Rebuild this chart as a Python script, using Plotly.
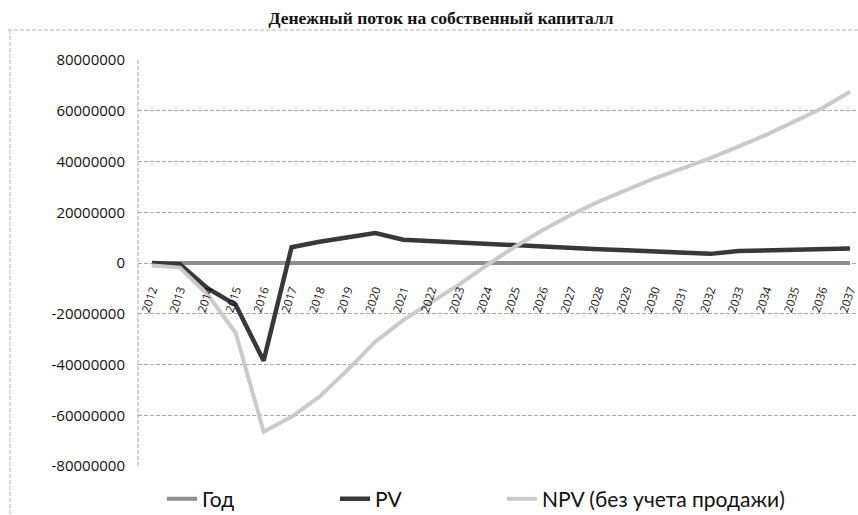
import plotly.graph_objects as go

years = [2012, 2013, 2014, 2015, 2016, 2017, 2018, 2019, 2020, 2021, 2022, 2023, 2024,
         2025, 2026, 2027, 2028, 2029, 2030, 2031, 2032, 2033, 2034, 2035, 2036, 2037]
year_labels = [str(y) for y in years]

god = [2012, 2013, 2014, 2015, 2016, 2017, 2018, 2019, 2020, 2021, 2022, 2023, 2024,
       2025, 2026, 2027, 2028, 2029, 2030, 2031, 2032, 2033, 2034, 2035, 2036, 2037]

pv = [0, -500000, -10000000, -16500000, -38500000, 6200000, 8400000, 10300000, 11800000,
      9200000, 8600000, 8000000, 7400000, 6800000, 6300000, 5800000, 5400000, 5000000,
      4600000, 4200000, 3600000, 4700000, 5000000, 5200000, 5400000, 5700000]

npv = [-1000000, -1800000, -12500000, -27500000, -66500000, -60600000, -52700000, -42200000,
       -31000000, -22500000, -15500000, -8500000, -800000, 6400000, 13000000, 18900000,
       24200000, 28800000, 33400000, 37300000, 41300000, 45900000, 50500000, 55700000,
       61000000, 67500000]

y_ticks = [80000000, 60000000, 40000000, 20000000, 0, -20000000, -40000000, -60000000, -80000000]
y_tick_text = [str(v) for v in y_ticks]

W, H = 858, 515
ML, MR, MT, MB = 138, 0, 60, 49
PW, PH = W - ML - MR, H - MT - MB

def px_x(p):
    return (p - ML) / PW

def px_y(p):
    return (H - MB - p) / PH

fig = go.Figure()
fig.add_trace(go.Scatter(x=years, y=god, mode="lines", name="Год",
                         line=dict(color="#8e8e8e", width=4), legend="legend"))
fig.add_trace(go.Scatter(x=years, y=pv, mode="lines", name="PV",
                         line=dict(color="#383838", width=4.5), legend="legend2"))
fig.add_trace(go.Scatter(x=years, y=npv, mode="lines", name="NPV (без учета продажи)",
                         line=dict(color="#cacaca", width=4), legend="legend3"))

legend_font = dict(family="Lato, Open Sans, sans-serif", size=21, color="#111")
def leg(xp):
    return dict(orientation="h", x=px_x(xp), y=px_y(499), xanchor="left", yanchor="middle",
                font=legend_font, bgcolor="rgba(0,0,0,0)", borderwidth=0)

fig.update_layout(
    width=W, height=H,
    margin=dict(l=ML, r=MR, t=MT, b=MB, autoexpand=False),
    paper_bgcolor="white", plot_bgcolor="white",
    title=dict(text="<b>Денежный поток на собственный капиталл</b>",
               x=441 / W, xanchor="center", y=1 - 18 / H, yanchor="middle",
               xref="container", yref="container",
               font=dict(family="Liberation Serif, Times New Roman, serif", size=17.5, color="#111")),
    showlegend=True,
    legend=leg(162), legend2=leg(335), legend3=leg(502),
    xaxis=dict(
        range=[2011.5, 2011.5 + PW / 27.92],
        tickvals=years, ticktext=year_labels, tickangle=-72,
        tickfont=dict(family="Open Sans, sans-serif", size=11.5, color="#111"),
        showgrid=False, zeroline=False, showline=False, ticks="",
        anchor="free", position=0.5, ticklabelstandoff=17,
        ticklabeloverflow="allow",
    ),
    yaxis=dict(
        range=[-80000000, 80000000],
        tickvals=y_ticks, ticktext=y_tick_text,
        tickfont=dict(family="Open Sans, sans-serif", size=15, color="#111"),
        showgrid=True, gridcolor="#a8a8a8", gridwidth=1, griddash="4px,2px",
        zeroline=False, showline=False, ticks="", ticklabelstandoff=12,
    ),
)

# y axis dashed vertical line
fig.add_shape(type="line", xref="paper", yref="paper", x0=0, x1=0, y0=0, y1=1,
              line=dict(color="#a8a8a8", width=1, dash="4px,2px"), layer="below")
# chart area border (dashed)
fig.add_shape(type="line", xref="paper", yref="paper", x0=px_x(8), x1=px_x(W + 5),
              y0=px_y(30), y1=px_y(30), line=dict(color="#b4b4b4", width=1, dash="4px,2px"))
fig.add_shape(type="line", xref="paper", yref="paper", x0=px_x(10), x1=px_x(10),
              y0=px_y(30), y1=px_y(H + 5), line=dict(color="#b4b4b4", width=1, dash="4px,2px"))

fig.write_html("out.html", config={"displayModeBar": False},
               post_script="document.body.style.margin='0';document.body.style.overflow='hidden';")
